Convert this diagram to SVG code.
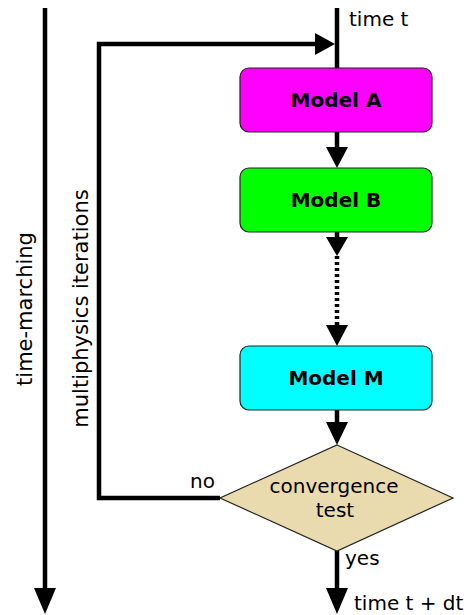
<svg xmlns="http://www.w3.org/2000/svg" width="470" height="615" viewBox="0 0 470 615">
  <style>
    .txt { font-family: "DejaVu Sans", "Liberation Sans", sans-serif; font-size: 20px; fill: #000; }
    .side { font-size: 21px; }
    .bold { font-weight: bold; }
    .wire { fill: none; stroke: #000; stroke-width: 4.5; }
    .box { stroke: #222; stroke-width: 1.2; }
    .head { fill: #000; stroke: none; }
  </style>
  <rect width="470" height="615" fill="#fff"/>

  <!-- connectors -->
  <g id="connectors">
    <!-- time-marching axis -->
    <line class="wire" x1="45" y1="8" x2="45" y2="592"/>
    <polygon class="head" points="34,588 56,588 45,614"/>
    <!-- main flow: time t into Model A -->
    <line class="wire" x1="337" y1="8" x2="337" y2="68"/>
    <!-- A to B -->
    <line class="wire" x1="337" y1="132" x2="337" y2="150"/>
    <polygon class="head" points="326,147 348,147 337,168"/>
    <!-- B to the elided models -->
    <line class="wire" x1="337" y1="232" x2="337" y2="240"/>
    <polygon class="head" points="326,237 348,237 337,256"/>
    <line class="wire" x1="337" y1="256" x2="337" y2="326" stroke-dasharray="3,3"/>
    <polygon class="head" points="326,325 348,325 337,346"/>
    <!-- M to convergence test -->
    <line class="wire" x1="337" y1="410" x2="337" y2="424"/>
    <polygon class="head" points="326,422 348,422 337,445"/>
    <!-- yes: leave to time t + dt -->
    <line class="wire" x1="337" y1="551" x2="337" y2="592"/>
    <polygon class="head" points="326,588 348,588 337,614"/>
    <!-- no: loop back to time t -->
    <polyline class="wire" points="220,498 99,498 99,44 318,44"/>
    <polygon class="head" points="315,33 315,55 335,44"/>
  </g>

  <g id="modelA">
    <rect class="box" x="240" y="68" width="192" height="64" rx="9" fill="#ff00ff"/>
    <text class="txt bold" x="336" y="107" text-anchor="middle">Model A</text>
  </g>
  <g id="modelB">
    <rect class="box" x="240" y="168" width="192" height="64" rx="9" fill="#00ff00"/>
    <text class="txt bold" x="336" y="207" text-anchor="middle">Model B</text>
  </g>
  <g id="modelM">
    <rect class="box" x="240" y="346" width="192" height="64" rx="9" fill="#00ffff"/>
    <text class="txt bold" x="336" y="385" text-anchor="middle">Model M</text>
  </g>
  <g id="convergence">
    <polygon class="box" points="337,445 453,498 337,551 220,498" fill="#e9dbad"/>
    <text class="txt" x="334" y="493" text-anchor="middle">convergence</text>
    <text class="txt" x="335" y="517" text-anchor="middle">test</text>
  </g>

  <g id="labels">
    <text class="txt" x="349" y="26">time t</text>
    <text class="txt" x="354" y="610">time t + dt</text>
    <text class="txt" x="190" y="488">no</text>
    <text class="txt" x="345" y="565">yes</text>
    <text class="txt side" transform="translate(32,309) rotate(-90)" text-anchor="middle">time-marching</text>
    <text class="txt side" transform="translate(88,308.5) rotate(-90)" text-anchor="middle">multiphysics iterations</text>
  </g>
</svg>
